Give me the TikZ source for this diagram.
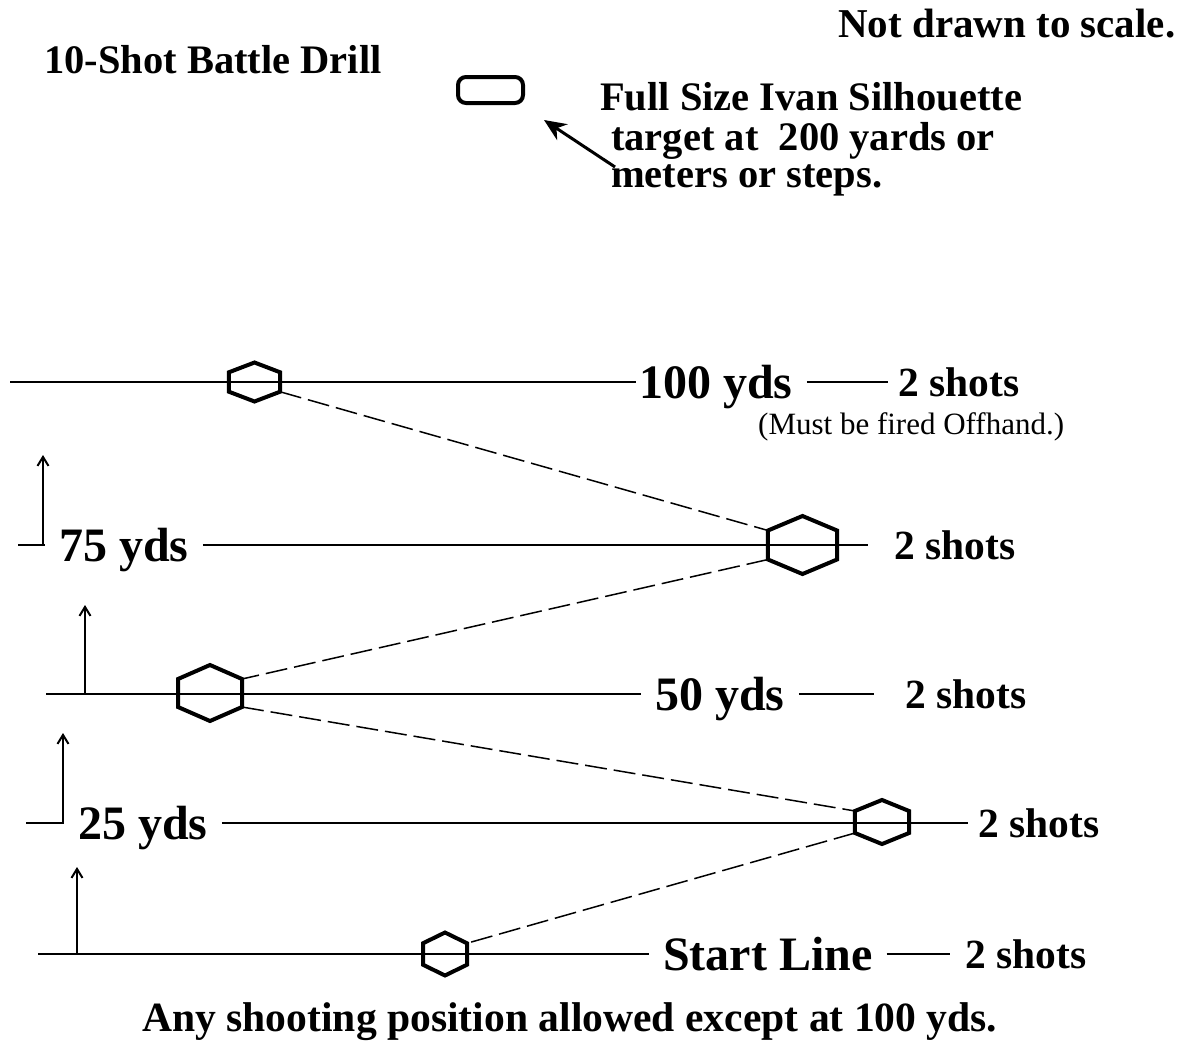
\documentclass[tikz,border=0pt]{standalone}
\usepackage{fontspec}
\setmainfont{Liberation Serif}
\usetikzlibrary{shapes.geometric,arrows.meta}

\begin{document}
\begin{tikzpicture}[x=1pt, y=-1pt, >={Straight Barb[length=9pt,width=11pt]}]
			\tikzset{
				heading/.style={anchor=base west, inner sep=0pt, font=\fontsize{40.5}{40.5}\selectfont\bfseries},
				yardage/.style={anchor=west, inner xsep=14pt, inner ysep=0pt, text height=32.6pt, text depth=0pt, font=\fontsize{48}{48}\selectfont\bfseries},
				shots/.style={anchor=west, inner xsep=10pt, inner ysep=0pt, text height=28.2pt, text depth=0pt, font=\fontsize{41.5}{41.5}\selectfont\bfseries},
				hexpost/.style={draw, line width=4pt, regular polygon, regular polygon sides=6, inner sep=0pt, outer sep=0pt, transform shape},
				rangeline/.style={line width=2pt},
				moveup/.style={line width=2pt,->},
				dashroute/.style={line width=1.5pt, dash pattern=on 22pt off 7pt},
			}
			\useasboundingbox (0,0) rectangle (1184,1047);
			%headings
			\node[heading](title) at (44,73){10-Shot Battle Drill};
			\node[heading, font=\fontsize{41}{41}\selectfont\bfseries](noscale) at (838,37){Not drawn to scale.};
			\node[draw, line width=4pt, rounded corners=8pt, minimum width=65pt, minimum height=26pt, inner sep=0pt, outer sep=0pt](target) at (490.5,90){};
			\node[heading](info1) at (600,110){Full Size Ivan Silhouette};
			\node[heading](info2) at (611,150){target at\ \ 200 yards or};
			\node[heading](info3) at (611,187){meters or steps.};
			\coordinate (ptail) at (615,167);
			\coordinate (ptip) at (544,120);
			\draw[line width=3pt, -{Stealth[length=22pt,width=19pt,inset=7pt]}] (ptail) -- (ptip);
			%firing lines
			\coordinate (s100) at (10,382);
			\node[yardage](t100) at (625,382){100 yds};
			\node[shots](n100) at (888,382){2 shots};
			\node[anchor=base west, inner sep=0pt, font=\fontsize{31}{31}\selectfont](note100) at (758,434){(Must be fired Offhand.)};
			\coordinate (s75) at (18,545);
			\node[yardage](t75) at (45,545){75 yds};
			\node[shots](n75) at (884,545){2 shots};
			\coordinate (s50) at (46,694);
			\node[yardage](t50) at (641,694){50 yds};
			\node[shots](n50) at (895,694){2 shots};
			\coordinate (s25) at (26,823);
			\node[yardage](t25) at (64,823){25 yds};
			\node[shots](n25) at (968,823){2 shots};
			\coordinate (sS) at (38,954);
			\node[yardage](tS) at (649,954){Start Line};
			\node[shots](nS) at (955,954){2 shots};
			\draw[rangeline, shorten >=-11pt] (s100) -- (t100);
			\draw[rangeline] (t100) -- (n100);
			\draw[rangeline] (s75) -- (t75);
			\draw[rangeline, shorten >=16pt] (t75) -- (n75);
			\draw[rangeline] (s50) -- (t50);
			\draw[rangeline, shorten >=21pt] (t50) -- (n50);
			\draw[rangeline] (s25) -- (t25);
			\draw[rangeline] (t25) -- (n25);
			\draw[rangeline] (sS) -- (tS);
			\draw[rangeline, shorten >=5pt] (tS) -- (nS);
			%shooting positions (turned a quarter so a corner points up)
			\node[hexpost, minimum size=58.9pt, shift={(254.5,382)}, yscale=0.662, rotate=90](h100) at (0,0){};
			\node[hexpost, minimum size=79.7pt, shift={(802.5,545)}, yscale=0.728, rotate=90](h75) at (0,0){};
			\node[hexpost, minimum size=73.9pt, shift={(210,693)}, yscale=0.758, rotate=90](h50) at (0,0){};
			\node[hexpost, minimum size=62.4pt, shift={(882,822)}, yscale=0.706, rotate=90](h25) at (0,0){};
			\node[hexpost, minimum size=50.8pt, shift={(445,954)}, yscale=0.846, rotate=90](hS) at (0,0){};
			\draw[dashroute] (h100.240) -- (h75.60);
			\draw[dashroute] (h75.120) -- (h50.300);
			\draw[dashroute] (h50.240) -- (h25.60);
			\draw[dashroute] (h25.120) -- (hS.300);
			%draw arrows
			\coordinate (foot75) at (43,545);
			\coordinate (tip75) at (43,455);
			\coordinate (foot50) at (85,694);
			\coordinate (tip50) at (85,605);
			\coordinate (foot25) at (63,823);
			\coordinate (tip25) at (63,733);
			\coordinate (footS) at (77,954);
			\coordinate (tipS) at (77,867);
			\draw[moveup] (foot75) -- (tip75);
			\draw[moveup] (foot50) -- (tip50);
			\draw[moveup] (foot25) -- (tip25);
			\draw[moveup] (footS) -- (tipS);
			\node[heading, font=\fontsize{41.6}{41.6}\selectfont\bfseries](footer) at (142,1031){Any shooting position allowed except at 100 yds.};
		\end{tikzpicture}
\end{document}
